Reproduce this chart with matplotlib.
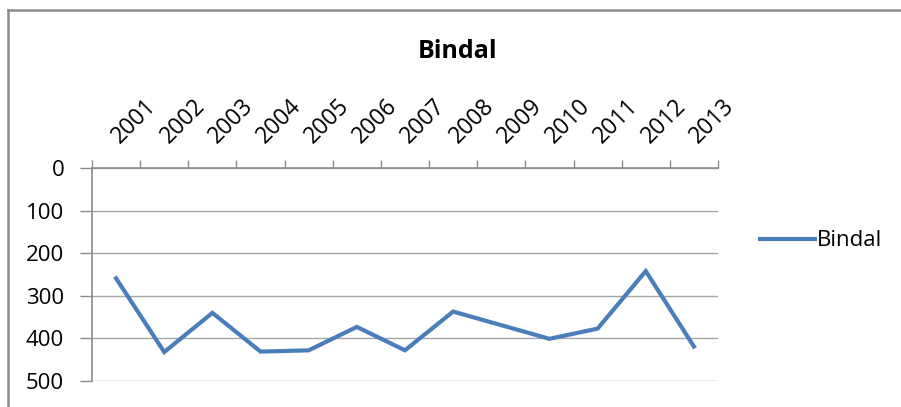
import numpy as np
import matplotlib
matplotlib.use("Agg")
import matplotlib.pyplot as plt
from matplotlib.lines import Line2D

# ---------------------------------------------------------------------------
# Data
# ---------------------------------------------------------------------------
years = ['2001', '2002', '2003', '2004', '2005', '2006', '2007',
         '2008', '2009', '2010', '2011', '2012', '2013']
bindal = [259, 432, 340, 431, 428, 373, 428, 337, 369, 401, 377, 242, 419]
y_ticks = [0, 100, 200, 300, 400, 500]

LINE_COLOR = '#4a7ebb'
GRID_COLOR = '#a6a6a6'
AXIS_COLOR = '#8c8c8c'

plt.rcParams['font.family'] = ['Open Sans', 'DejaVu Sans']

fig = plt.figure(figsize=(9.01, 4.07), dpi=100)
ax = fig.add_axes([92 / 901, 1 - 381 / 407, 626 / 901, 213 / 407])

x = np.arange(len(years))
ax.plot(x, bindal, color=LINE_COLOR, lw=3.0, solid_joinstyle='miter',
        label='Bindal', zorder=3)

# y axis: inverted, 0 at top
ax.set_ylim(500, 0)
ax.set_yticks(y_ticks)
ax.yaxis.grid(True, color=GRID_COLOR, lw=1.0)
ax.tick_params(axis='y', direction='out', length=9, width=1,
               color=AXIS_COLOR, labelsize=16, pad=11)

# x axis on top: ticks on boundaries, labels at category centres
ax.set_xlim(-0.5, len(years) - 0.5)
ax.xaxis.tick_top()
ax.set_xticks(np.arange(len(years) + 1) - 0.5)
ax.set_xticklabels([])
ax.set_xticks(x, minor=True)
ax.set_xticklabels(years, minor=True, rotation=45, ha='left', va='center',
                   rotation_mode='anchor')
ax.tick_params(axis='x', which='major', direction='out', length=6, width=1,
               color=AXIS_COLOR, top=True, bottom=False)
ax.tick_params(axis='x', which='minor', length=0, labelsize=16.5, pad=20,
               top=True, bottom=False, labeltop=True, labelbottom=False)

for side in ['bottom', 'right']:
    ax.spines[side].set_visible(False)
for side in ['top', 'left']:
    ax.spines[side].set_color(AXIS_COLOR)
    ax.spines[side].set_linewidth(1.2)
ax.set_axisbelow(True)

# title and legend
fig.text(458 / 901, 1 - 52 / 407, 'Bindal', ha='center', va='center',
         fontsize=18, fontweight='bold')
fig.legend(handles=[Line2D([], [], color=LINE_COLOR, lw=3.0)],
           labels=['Bindal'], loc='center left',
           bbox_to_anchor=(749 / 901, 1 - 241 / 407), frameon=False,
           fontsize=16, handlelength=2.45, handletextpad=0.1, borderpad=0)

# chart area border (partially visible)
fig.add_artist(Line2D([8 / 901, 8 / 901], [0, 1 - 10 / 407],
                      color='#8a8a8a', lw=1.8, transform=fig.transFigure))
fig.add_artist(Line2D([8 / 901, 1], [1 - 10 / 407, 1 - 10 / 407],
                      color='#8a8a8a', lw=1.8, transform=fig.transFigure))

fig.savefig('out.png', dpi=100)
